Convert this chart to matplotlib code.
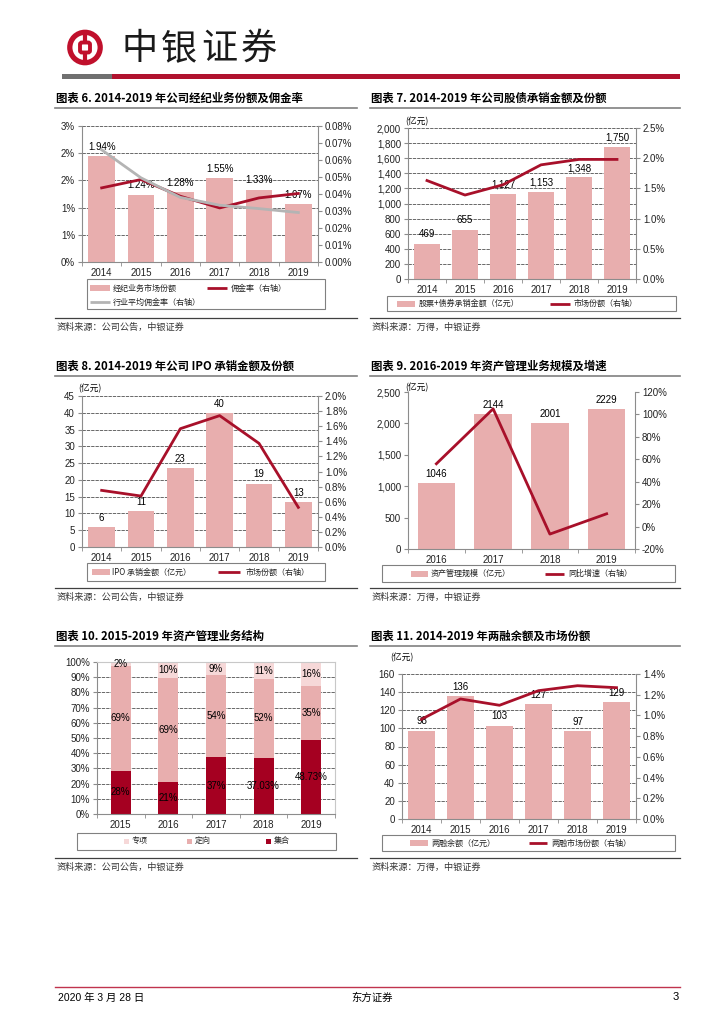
import numpy as np
import matplotlib.pyplot as plt
from matplotlib.patches import Rectangle, Circle, FancyBboxPatch

W, H = 724, 1024
CJK = ['Noto Sans CJK SC', 'DejaVu Sans']
NUM = ['Liberation Sans Narrow', 'Liberation Sans', 'DejaVu Sans']

PINK = '#E8AEAE'
LPINK = '#F6D8D8'
RED = '#A8102A'
DRED = '#A50021'
LGRAY = '#B4B4B4'
AXC = '#8C8C8C'
GRIDC = '#505050'

# ---- data ----
years = ['2014', '2015', '2016', '2017', '2018', '2019']

# 图表6
share6 = [1.94, 1.24, 1.28, 1.55, 1.33, 1.07]
comm6 = [0.0436, 0.0485, 0.0387, 0.0318, 0.0377, 0.0403]
ind6 = [0.0660, 0.0495, 0.0380, 0.0334, 0.0314, 0.0291]
left6_ticks = [0, 0.5, 1.0, 1.5, 2.0, 2.5]
left6_labels = ['0%', '1%', '1%', '2%', '2%', '3%']

# 图表7
uw7 = [469, 655, 1127, 1153, 1348, 1750]
share7 = [1.63, 1.39, 1.56, 1.89, 1.98, 1.98]

# 图表8
ipo8 = [5.9, 10.6, 23.4, 40.0, 18.9, 13.4]
share8 = [0.75, 0.675, 1.567, 1.74, 1.373, 0.525]

# 图表9
years9 = ['2016', '2017', '2018', '2019']
am9 = [1046, 2144, 2001, 2229]
growth9 = [56, 105, -6.7, 11.4]

# 图表10
years10 = ['2015', '2016', '2017', '2018', '2019']
jh10 = [28.3, 21.0, 37.2, 37.03, 48.73]
dx10 = [69.3, 68.7, 54.0, 51.6, 35.2]
zx10 = [2.4, 10.3, 8.8, 11.37, 16.07]
jh10_lab = ['28%', '21%', '37%', '37.03%', '48.73%']
dx10_lab = ['69%', '69%', '54%', '52%', '35%']
zx10_lab = ['2%', '10%', '9%', '11%', '16%']

# 图表11
mt11 = [97.6, 136, 103, 127, 97, 129]
mt11_lab = ['98', '136', '103', '127', '97', '129']
share11 = [0.963, 1.159, 1.098, 1.239, 1.287, 1.268]


def rect(l, t, r, b):
    return [l / W, 1 - b / H, (r - l) / W, (b - t) / H]


def style_ax(ax, cats, ylim, yticks, ylabels, grid=True):
    n = len(cats)
    ax.set_xlim(-0.5, n - 0.5)
    ax.set_ylim(*ylim)
    ax.set_yticks(yticks)
    ax.set_yticklabels(ylabels, fontsize=7, family=NUM, color='#222222')
    ax.set_xticks(range(n))
    ax.set_xticklabels(cats, fontsize=7, family=NUM, color='#222222')
    ax.set_xticks(np.arange(-0.5, n), minor=True)
    ax.tick_params(axis='x', which='major', length=0, pad=4)
    ax.tick_params(axis='x', which='minor', length=3, color=AXC)
    ax.tick_params(axis='y', length=3, color=AXC, pad=2)
    for s in ['top', 'right']:
        ax.spines[s].set_visible(False)
    for s in ['left', 'bottom']:
        ax.spines[s].set_color(AXC)
        ax.spines[s].set_linewidth(0.8)
    if grid:
        for y in yticks[1:]:
            ax.axhline(y, color=GRIDC, lw=0.6, ls=(0, (4, 1.2)), zorder=1)
    ax.patch.set_alpha(0)


def right_ax(ax, ylim, yticks, ylabels):
    r = ax.twinx()
    r.set_ylim(*ylim)
    r.set_yticks(yticks)
    r.set_yticklabels(ylabels, fontsize=7, family=NUM, color='#222222')
    r.tick_params(axis='y', length=3, color=AXC, pad=2)
    for s in ['top', 'left', 'bottom']:
        r.spines[s].set_visible(False)
    r.spines['right'].set_color(AXC)
    r.spines['right'].set_linewidth(0.8)
    return r


def bar_labels(ax, vals, labels, off=3):
    for i, (v, s) in enumerate(zip(vals, labels)):
        ax.annotate(s, (i, v), xytext=(0, off), textcoords='offset points',
                    ha='center', va='bottom', fontsize=7, family=NUM, zorder=4)


fig = plt.figure(figsize=(7.24, 10.24), dpi=100)
ov = fig.add_axes([0, 0, 1, 1])
ov.set_xlim(0, W)
ov.set_ylim(H, 0)
ov.axis('off')

# ---- header ----
ov.add_patch(Circle((85, 47.5), 15.2, fill=False, ec='#C0102C', lw=3.8))
ov.add_patch(FancyBboxPatch((80, 42.5), 10, 10, boxstyle='round,pad=0,rounding_size=2',
                            fill=False, ec='#C0102C', lw=2.8))
ov.plot([85, 85], [31, 41], color='#C0102C', lw=3, solid_capstyle='butt')
ov.plot([85, 85], [54, 64], color='#C0102C', lw=3, solid_capstyle='butt')
for x, ch in zip([140, 179, 219, 259], '中银证券'):
    ov.text(x, 49, ch, fontsize=26, family=CJK, ha='center', va='center', color='#1A1A1A')
ov.add_patch(Rectangle((62, 74), 50, 5, color='#707070', lw=0))
ov.add_patch(Rectangle((112, 74), 568, 5, color='#B0122E', lw=0))


def block_title(x0, x1, y, s):
    ov.text(x0 + 1, y, s, fontsize=8.2, family=CJK, weight='bold', va='center', ha='left')
    ov.plot([x0, x1], [y + 9.5, y + 9.5], color='#808080', lw=1.2)


def source(x0, x1, y, s):
    ov.plot([x0, x1], [y, y], color='#404040', lw=0.9)
    ov.text(x0 + 2, y + 9.5, s, fontsize=6.6, family=CJK, va='center', ha='left', color='#333333')


def legend_box(l, t, r, b):
    ov.add_patch(Rectangle((l, t), r - l, b - t, fill=False, ec='#808080', lw=0.8))


def leg_patch(x0, x1, y, color, h=6):
    ov.add_patch(Rectangle((x0, y - h / 2), x1 - x0, h, color=color, lw=0))


def leg_line(x0, x1, y, color):
    ov.plot([x0, x1], [y, y], color=color, lw=2, solid_capstyle='butt')


def leg_text(x, y, s):
    ov.text(x, y, s, fontsize=5.8, family=CJK, va='center', ha='left', color='#222222')


block_title(55, 357, 98, '图表 6. 2014-2019 年公司经纪业务份额及佣金率')
block_title(370, 680, 98, '图表 7. 2014-2019 年公司股债承销金额及份额')
block_title(55, 357, 366, '图表 8. 2014-2019 年公司 IPO 承销金额及份额')
block_title(370, 680, 366, '图表 9. 2016-2019 年资产管理业务规模及增速')
block_title(55, 357, 636, '图表 10. 2015-2019 年资产管理业务结构')
block_title(370, 680, 636, '图表 11. 2014-2019 年两融余额及市场份额')

source(55, 357, 318, '资料来源：公司公告，中银证券')
source(370, 680, 318, '资料来源：万得，中银证券')
source(55, 357, 588, '资料来源：公司公告，中银证券')
source(370, 680, 588, '资料来源：万得，中银证券')
source(55, 357, 858, '资料来源：公司公告，中银证券')
source(370, 680, 858, '资料来源：万得，中银证券')

# ---- 图表6 ----
ax = fig.add_axes(rect(82, 126, 318, 262))
style_ax(ax, years, (0, 2.5), left6_ticks, left6_labels)
x = np.arange(len(years))
ax.bar(x, share6, width=0.68, color=PINK, zorder=2)
bar_labels(ax, share6, ['%.2f%%' % v for v in share6])
r = right_ax(ax, (0, 0.08), np.arange(0, 0.081, 0.01),
             ['%.2f%%' % v for v in np.arange(0, 0.081, 0.01)])
r.plot(x, comm6, color=RED, lw=2)
r.plot(x, ind6, color=LGRAY, lw=2)
legend_box(87, 279, 325, 309)
leg_patch(90, 110, 288, PINK)
leg_text(113, 288, '经纪业务市场份额')
leg_line(207, 227, 288, RED)
leg_text(231, 288, '佣金率（右轴）')
leg_line(90, 110, 302, LGRAY)
leg_text(113, 302, '行业平均佣金率（右轴）')

# ---- 图表7 ----
ax = fig.add_axes(rect(408, 128, 636, 279))
t7 = list(range(0, 2001, 200))
style_ax(ax, years, (0, 2000), t7, ['{:,}'.format(v) for v in t7])
ax.bar(x, uw7, width=0.68, color=PINK, zorder=2)
bar_labels(ax, uw7, ['{:,}'.format(v) for v in uw7])
rt = np.arange(0, 2.51, 0.5)
r = right_ax(ax, (0, 2.5), rt, ['%.1f%%' % v for v in rt])
r.plot(x, share7, color=RED, lw=2)
ov.text(405, 122, '(亿元)', fontsize=6.3, family=CJK, va='center', ha='left')
legend_box(387, 296, 676, 311)
leg_patch(397, 415, 303.5, PINK)
leg_text(419, 303.5, '股票+债券承销金额（亿元）')
leg_line(550, 570, 303.5, RED)
leg_text(574, 303.5, '市场份额（右轴）')

# ---- 图表8 ----
ax = fig.add_axes(rect(82, 396, 318, 547))
t8 = list(range(0, 46, 5))
style_ax(ax, years, (0, 45), t8, [str(v) for v in t8])
ax.bar(x, ipo8, width=0.68, color=PINK, zorder=2)
bar_labels(ax, ipo8, ['%.0f' % v for v in ipo8])
rt = np.arange(0, 2.01, 0.2)
r = right_ax(ax, (0, 2.0), rt, ['%.1f%%' % v for v in rt])
r.plot(x, share8, color=RED, lw=2)
ov.text(78, 389, '(亿元)', fontsize=6.3, family=CJK, va='center', ha='left')
legend_box(87, 563, 325, 581)
leg_patch(92, 110, 572, PINK)
leg_text(112, 572, 'IPO 承销金额（亿元）')
leg_line(218, 240, 572, RED)
leg_text(246, 572, '市场份额（右轴）')

# ---- 图表9 ----
ax = fig.add_axes(rect(408, 392, 635, 549))
x9 = np.arange(len(years9))
t9 = list(range(0, 2501, 500))
style_ax(ax, years9, (0, 2500), t9, ['{:,}'.format(v) for v in t9], grid=False)
ax.bar(x9, am9, width=0.66, color=PINK, zorder=2)
bar_labels(ax, am9, [str(v) for v in am9])
rt = list(range(-20, 121, 20))
r = right_ax(ax, (-20, 120), rt, ['%d%%' % v for v in rt])
r.plot(x9, growth9, color=RED, lw=2)
ov.text(405, 388, '(亿元)', fontsize=6.3, family=CJK, va='center', ha='left')
legend_box(382, 565, 675, 582)
leg_patch(411, 428, 573.5, PINK)
leg_text(431, 573.5, '资产管理规模（亿元）')
leg_line(545, 564, 573.5, RED)
leg_text(568, 573.5, '同比增速（右轴）')

# ---- 图表10 ----
ax = fig.add_axes(rect(97, 662, 335, 814))
x10 = np.arange(len(years10))
t10 = list(range(0, 101, 10))
style_ax(ax, years10, (0, 100), t10, ['%d%%' % v for v in t10])
for s in ['top', 'right']:
    ax.spines[s].set_visible(True)
    ax.spines[s].set_color('#C8C8C8')
    ax.spines[s].set_linewidth(0.8)
b1 = np.array(jh10)
b2 = b1 + np.array(dx10)
ax.bar(x10, jh10, width=0.42, color=DRED, zorder=2)
ax.bar(x10, dx10, width=0.42, bottom=b1, color=PINK, zorder=2)
ax.bar(x10, zx10, width=0.42, bottom=b2, color=LPINK, zorder=2)
for i in range(len(years10)):
    ax.text(i, jh10[i] / 2, jh10_lab[i], ha='center', va='center', fontsize=7, family=NUM, zorder=4)
    ax.text(i, b1[i] + dx10[i] / 2, dx10_lab[i], ha='center', va='center', fontsize=7, family=NUM, zorder=4)
    ax.text(i, b2[i] + zx10[i] / 2, zx10_lab[i], ha='center', va='center', fontsize=7, family=NUM, zorder=4)
legend_box(77, 833, 336, 850)
leg_patch(124, 129, 841, LPINK, h=5)
leg_text(132, 841, '专项')
leg_patch(187, 192, 841, PINK, h=5)
leg_text(195, 841, '定向')
leg_patch(266, 271, 841, DRED, h=5)
leg_text(274, 841, '集合')

# ---- 图表11 ----
ax = fig.add_axes(rect(402, 674, 636, 819))
t11 = list(range(0, 161, 20))
style_ax(ax, years, (0, 160), t11, [str(v) for v in t11])
ax.bar(x, mt11, width=0.68, color=PINK, zorder=2)
bar_labels(ax, mt11, mt11_lab)
rt = np.arange(0, 1.41, 0.2)
r = right_ax(ax, (0, 1.4), rt, ['%.1f%%' % v for v in rt])
r.plot(x, share11, color=RED, lw=2)
ov.text(390, 658, '(亿元)', fontsize=6.3, family=CJK, va='center', ha='left')
legend_box(382, 835, 675, 851)
leg_patch(410, 428, 843, PINK)
leg_text(431, 843, '两融余额（亿元）')
leg_line(529, 547, 843, RED)
leg_text(551, 843, '两融市场份额（右轴）')

# ---- footer ----
ov.plot([55, 680], [987, 987], color='#C0334D', lw=1)
ov.text(58, 998, '2020 年 3 月 28 日', fontsize=7.5, family=NUM[1:2] + CJK, va='center', ha='left')
ov.text(372, 998, '东方证券', fontsize=7.5, family=CJK, va='center', ha='center')
ov.text(679, 997, '3', fontsize=8, family=NUM, va='center', ha='right')

fig.savefig('out.png', dpi=100)
